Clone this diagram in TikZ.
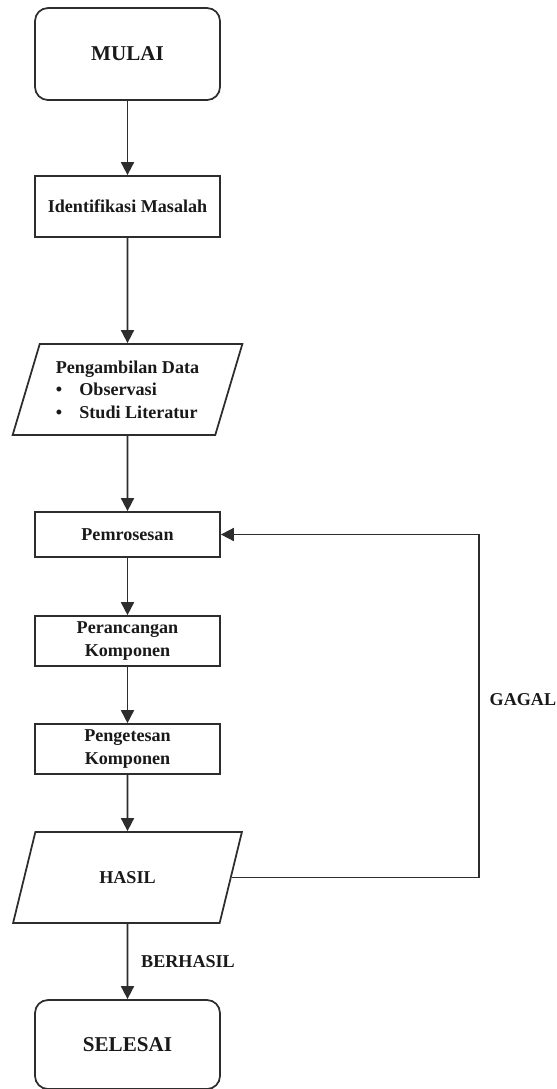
\documentclass[tikz,border=0pt]{standalone}
\usepackage{fontspec}
\setmainfont{Liberation Serif}
\usepackage{tikz}
\usetikzlibrary{shapes.geometric, arrows.meta, positioning}
\definecolor{garis}{RGB}{45, 45, 45}
\definecolor{teks}{RGB}{25, 25, 25}
\tikzset{
    kotak/.style={draw=garis, rectangle, line width=1pt, minimum width=3.7cm, text=teks, align=center, font=\bfseries\fontsize{10.3}{12.8}\selectfont},
    terminal/.style={kotak, rounded corners=0.26cm, minimum height=1.84cm, font=\bfseries\fontsize{12}{14}\selectfont},
    prosesbox/.style={kotak, minimum height=0.92cm},
    iobox/.style={kotak, trapezium, trapezium left angle=71, trapezium right angle=109, trapezium stretches=true, minimum width=4.6cm, minimum height=1.82cm},
    alur/.style={-{Triangle[length=0.26cm, width=0.26cm]}, line width=1pt, draw=garis},
    label/.style={font=\bfseries\fontsize{10.3}{12}\selectfont, text=teks},
}
\begin{document}
\begin{tikzpicture}
                \useasboundingbox (0,0) rectangle (11.14,-21.78);

                % Terminal awal
                \node[terminal] (mulai) at (2.55,-1.08) {MULAI};

                % Tahapan
                \node[prosesbox, minimum height=1.22cm] (identifikasi) at (2.55,-4.13) {Identifikasi Masalah};
                \node[iobox, align=left] (data) at (2.55,-7.79)
                      {Pengambilan Data\\\textbullet\hspace{0.95em}Observasi\\\textbullet\hspace{0.95em}Studi Literatur};
                \node[prosesbox, minimum height=0.9cm] (proses) at (2.55,-10.69) {Pemrosesan};
                \node[prosesbox] (rancang) at (2.55,-12.82) {Perancangan\\Komponen};
                \node[prosesbox] (uji) at (2.55,-14.98) {Pengetesan\\Komponen};
                \node[iobox] (hasil) at (2.55,-17.55) {HASIL};

                % Terminal akhir
                \node[terminal, minimum height=1.78cm] (selesai) at (2.55,-20.89) {SELESAI};

                % Titik belok umpan balik
                \coordinate (belok) at (9.58,-10.69);

                % Connections
                \draw[alur] (mulai) -- (identifikasi);
                \draw[alur] (identifikasi) -- (data);
                \draw[alur] (data) -- (proses);
                \draw[alur] (proses) -- (rancang);
                \draw[alur] (rancang) -- (uji);
                \draw[alur] (uji) -- (hasil);
                \draw[alur] (hasil) -- node[label, midway, right=0.14cm] {BERHASIL} (selesai);
                \draw[alur] (hasil.east) -| node[label, pos=0.76, right=0.08cm] {GAGAL} (belok) -- (proses.east);
            \end{tikzpicture}
\end{document}
